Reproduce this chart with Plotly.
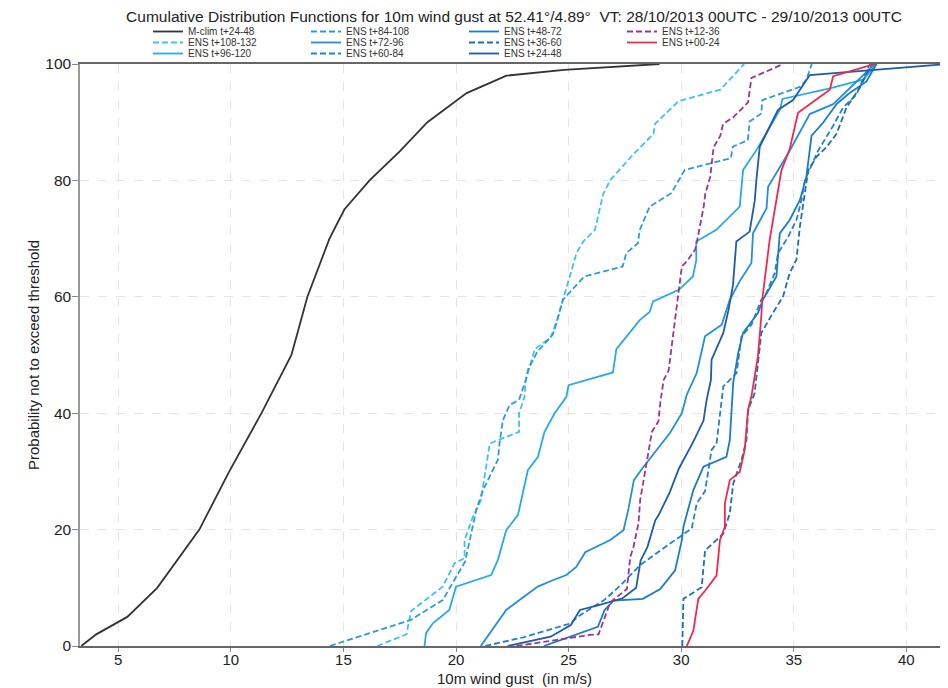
import plotly.graph_objects as go

# ---------------- data ----------------
mclim_x = [3.36, 3.71, 4.02, 5.4, 6.73, 8.6, 9.27, 9.93, 11.36, 12.69, 13.4, 14.38, 15.04, 16.16, 17.5, 18.73, 20.47, 22.24, 24.8, 29.04]
mclim_p = [0, 1, 2, 5, 10, 20, 25, 30, 40, 50, 60, 70, 75, 80, 85, 90, 95, 98, 99, 100]

ens108_x = [16.5, 17.8, 18.0, 19.41, 19.93, 20.38, 20.38, 20.75, 21.1, 21.5, 22.8, 22.8, 23.04, 23.1, 23.5, 24.2, 24.46, 24.75, 25.35, 25.65, 26.17, 26.54, 26.84, 27.88, 28.77, 28.84, 29.88, 31.74, 32.8]
ens108_p = [0, 2, 6, 10.2, 14.2, 15.1, 18.2, 22.2, 25, 34.8, 36.8, 40, 42.8, 45.7, 51, 53, 55.6, 59.4, 67.5, 69.5, 71.5, 77.7, 80, 84.5, 88, 89.7, 93.6, 95.6, 100]

ens96_x = [18.6, 18.67, 18.97, 19.7, 20.0, 21.56, 21.86, 22.23, 22.75, 23.19, 23.64, 23.93, 24.38, 24.9, 25.0, 26.97, 27.12, 28.16, 28.6, 28.75, 29.9, 30.52, 30.67, 30.67, 31.56, 32.3, 32.6, 32.75, 33.34, 34.38, 34.5, 36.6, 38.08, 38.68]
ens96_p = [0, 2.2, 3.9, 6.2, 10.2, 12.2, 14.8, 19.9, 22.5, 30.2, 32.5, 36.8, 40, 42.8, 44.8, 47, 51, 56, 57.4, 59.2, 61.2, 63.5, 66.3, 69.5, 71.5, 74.3, 75.5, 81.8, 85.2, 92.1, 94, 95.8, 97.3, 100]

ens84_x = [14.4, 18.0, 19.41, 19.93, 20.4, 20.6, 20.9, 21.2, 21.86, 21.93, 22.08, 22.38, 22.8, 23.1, 23.2, 23.6, 24.3, 24.5, 24.75, 25.7, 27.4, 27.56, 28.08, 28.16, 28.6, 29.56, 30.16, 32.2, 32.3, 32.96, 33.04, 33.56, 33.6, 35.3, 35.56, 35.8]
ens84_p = [0, 4.5, 7.9, 11.3, 14.5, 18, 23.4, 26.8, 32, 34.8, 38.8, 41.4, 42.3, 45.7, 47.5, 50.5, 53.5, 56, 59.5, 63.5, 65.2, 67.5, 69.2, 71.5, 75.5, 77.8, 81.8, 83.8, 85.8, 86.9, 90.1, 91.5, 93.8, 96.1, 97.3, 100]

ens72_x = [21.1, 22.23, 22.82, 23.63, 24.3, 24.9, 25.34, 25.74, 26.85, 27.44, 27.66, 27.8, 27.9, 28.33, 28.92, 29.5, 30.03, 30.25, 30.69, 31.06, 31.8, 32.16, 32.6, 33.12, 33.19, 33.79, 33.86, 34.3, 34.82, 35.71, 36.75, 38.6]
ens72_p = [0, 6.2, 7.9, 10.2, 11.3, 12.2, 13.6, 16.1, 18.2, 19.9, 23.6, 26.2, 28.5, 30.8, 33.7, 36.6, 40, 43.2, 46.9, 53.2, 55.2, 59.5, 62.7, 65.8, 70.9, 75.2, 78.9, 81.7, 85.1, 91.4, 93.1, 100]

ens60_x = [21.3, 23.0, 25.1, 25.4, 26.0, 26.55, 27.22, 28.18, 29.51, 30.47, 30.69, 31.06, 31.35, 31.57, 31.87, 32.46, 32.68, 33.12, 33.56, 33.79, 34.16, 34.3, 34.75, 35.12, 35.34, 35.49, 36.08, 36.75, 37.19, 37.79, 38.38]
ens60_p = [0, 1.5, 3.9, 5, 6.5, 7.8, 10.1, 13.9, 17.6, 20.2, 24.5, 26.6, 33.7, 34.8, 44.6, 46.9, 53.2, 55.2, 59.5, 60.7, 64.1, 67.5, 70.3, 73.2, 76.6, 80, 85.1, 89.4, 92.5, 94.8, 100]

ens48_x = [23.9, 25.0, 26.3, 26.6, 27.0, 28.3, 29.07, 29.73, 30.03, 30.1, 30.54, 30.99, 32.01, 32.16, 32.31, 32.53, 32.75, 33.41, 33.63, 34.23, 34.38, 34.82, 35.27, 35.56, 35.79, 36.3, 36.9, 37.41, 38.23, 38.67]
ens48_p = [0, 1.5, 3.3, 6.2, 7.8, 8.1, 9.8, 13, 18.2, 20.5, 26.8, 30.8, 32.5, 35.4, 45.2, 50.3, 53.8, 57.2, 59.5, 63.5, 70.9, 73.2, 76.6, 80.6, 87.7, 89.9, 93.1, 94.8, 97, 100]

ens36_x = [30.05, 30.1, 30.91, 31.06, 31.87, 32.16, 32.31, 32.68, 32.9, 32.97, 33.26, 33.41, 33.56, 34.07, 34.53, 34.82, 35.12, 35.27, 35.49, 35.64, 36.0, 36.45, 36.9, 37.34, 37.93, 38.45]
ens36_p = [0, 8.1, 10.1, 16.4, 19.3, 22.8, 27.9, 32, 35.4, 40.6, 43.4, 49.2, 53.8, 57.2, 60.1, 64.1, 66.4, 72, 77.7, 81.7, 84, 85.7, 88, 92.5, 95.9, 100]

ens24_x = [22.3, 24.2, 25.1, 25.5, 26.3, 27.4, 28.0, 28.2, 28.5, 28.85, 29.0, 29.5, 29.9, 30.5, 30.99, 31.13, 31.32, 31.35, 31.87, 32.1, 32.3, 32.45, 33.04, 33.27, 33.34, 33.49, 34.3, 34.97, 35.71, 41.84]
ens24_p = [0, 1.6, 3.6, 6.2, 7.0, 8.2, 10, 14.7, 17, 21.6, 22.5, 26.5, 30.5, 34.8, 38.7, 42.3, 45.7, 49.2, 53.8, 57.7, 62, 69.5, 71.2, 76.6, 80.1, 85.8, 92.1, 93.8, 98.1, 100]

ens12_x = [22.69, 25.93, 26.33, 26.85, 27.59, 27.74, 27.88, 28.1, 28.18, 28.4, 28.55, 28.7, 28.99, 29.07, 29.22, 29.44, 29.73, 29.88, 30.03, 30.25, 30.62, 30.7, 31.0, 31.07, 31.29, 31.44, 31.74, 31.86, 32.3, 32.97, 33.12, 34.53]
ens12_p = [0, 1.9, 2, 7.5, 9.8, 15.3, 17, 21, 25.1, 29.7, 33.4, 36.8, 38.6, 41.7, 45.7, 47.3, 55.6, 60.7, 65.2, 66.1, 68.1, 69.5, 75.5, 77.7, 80.6, 85.7, 87.7, 89.7, 90.8, 93.4, 97.6, 100]

ens00_x = [30.25, 30.54, 30.76, 31.06, 31.57, 31.72, 31.94, 31.94, 32.16, 32.6, 32.82, 32.97, 33.12, 33.34, 33.41, 33.56, 33.6, 33.93, 34.23, 34.45, 34.82, 35.04, 35.19, 35.71, 36.6, 36.75, 38.6]
ens00_p = [0, 2.6, 8.1, 9.5, 12.1, 18.2, 20.5, 24.5, 28.5, 29.9, 33.7, 40.6, 42.9, 48.3, 49.8, 56.7, 59.5, 69.8, 76.6, 81.7, 85.4, 89.1, 91.6, 93.1, 95.6, 97.9, 100]

x_ticks = [5, 10, 15, 20, 25, 30, 35, 40]
y_ticks = [0, 20, 40, 60, 80, 100]

# (name, x, p, colour, dash, legend row, column)
series = [
    ("M-clim t+24-48", mclim_x, mclim_p, "#333333", "solid", "legend", 1),
    ("ENS t+108-132", ens108_x, ens108_p, "#3dc3f2", "dash", "legend2", 1),
    ("ENS t+96-120", ens96_x, ens96_p, "#27abe3", "solid", "legend3", 1),
    ("ENS t+84-108", ens84_x, ens84_p, "#2b9be0", "dash", "legend", 2),
    ("ENS t+72-96", ens72_x, ens72_p, "#2190d6", "solid", "legend2", 2),
    ("ENS t+60-84", ens60_x, ens60_p, "#1e83cb", "dash", "legend3", 2),
    ("ENS t+48-72", ens48_x, ens48_p, "#1c7bc4", "solid", "legend", 3),
    ("ENS t+36-60", ens36_x, ens36_p, "#1b6fb8", "dash", "legend2", 3),
    ("ENS t+24-48", ens24_x, ens24_p, "#1f5ba8", "solid", "legend3", 3),
    ("ENS t+12-36", ens12_x, ens12_p, "#9a3599", "dash", "legend", 4),
    ("ENS t+00-24", ens00_x, ens00_p, "#f0294c", "solid", "legend2", 4),
]

FONT = "Liberation Sans, Arial, sans-serif"

W, H = 948, 688
ML, MR, MT, MB = 72, 8, 56, 50
PW, PH = W - ML - MR, H - MT - MB

fig = go.Figure()
for name, xs, ps, col, dash, leg, colno in series:
    fig.add_trace(go.Scatter(
        x=xs, y=ps, mode="lines", name=name,
        line=dict(color=col, width=1.8, dash="6px,3px" if dash == "dash" else "solid"),
        legend=leg, legendrank=colno,
    ))

def legend_row(ytop):
    return dict(
        orientation="h", xref="container", yref="container",
        x=140 / W, y=1 - ytop / H, xanchor="left", yanchor="top",
        entrywidth=113, entrywidthmode="pixels",
        bgcolor="rgba(0,0,0,0)", borderwidth=0,
        font=dict(family=FONT, size=10, color="#333"),
        itemwidth=30, tracegroupgap=0,
    )

fig.update_layout(
    width=W, height=H,
    margin=dict(l=ML, r=MR, t=MT, b=MB, autoexpand=False),
    paper_bgcolor="white", plot_bgcolor="white",
    font=dict(family=FONT, color="#333"),
    title=dict(
        text="Cumulative Distribution Functions for 10m wind gust at 52.41\u00b0/4.89\u00b0  VT: 28/10/2013 00UTC - 29/10/2013 00UTC",
        x=0.5, xref="paper", xanchor="center", y=1 - 9 / H, yref="container", yanchor="middle",
        font=dict(family=FONT, size=15.5, color="#222"),
    ),
    legend=legend_row(9),
    legend2=legend_row(20),
    legend3=legend_row(31),
    xaxis=dict(
        range=[3.3, 41.85], tickvals=x_ticks, ticks="outside", ticklen=4, tickcolor="#888",
        showgrid=True, gridcolor="#e4e4e4", griddash="dash", gridwidth=1,
        showline=True, linecolor="#666", linewidth=1.5, mirror=True, zeroline=False,
        tickfont=dict(family=FONT, size=15, color="#222"), ticklabelstandoff=-5,
        automargin=False,
    ),
    yaxis=dict(
        range=[0, 100], tickvals=y_ticks, ticks="outside", ticklen=6, tickcolor="#888",
        showgrid=True, gridcolor="#e4e4e4", griddash="dash", gridwidth=1,
        showline=True, linecolor="#999", linewidth=1.5, zeroline=False,
        tickfont=dict(family=FONT, size=15.5, color="#222"), ticklabelstandoff=-2,
        automargin=False,
    ),
    annotations=[
        dict(text="10m wind gust  (in m/s)", xref="paper", yref="paper",
             x=0.5, y=-32 / PH, xanchor="center", yanchor="middle", showarrow=False,
             font=dict(family=FONT, size=15, color="#222")),
        dict(text="Probability not to exceed threshold", xref="paper", yref="paper",
             x=-47 / PW, y=0.5, xanchor="center", yanchor="middle", showarrow=False,
             textangle=-90, font=dict(family=FONT, size=15, color="#222")),
    ],
)

fig.write_html("out.html")
